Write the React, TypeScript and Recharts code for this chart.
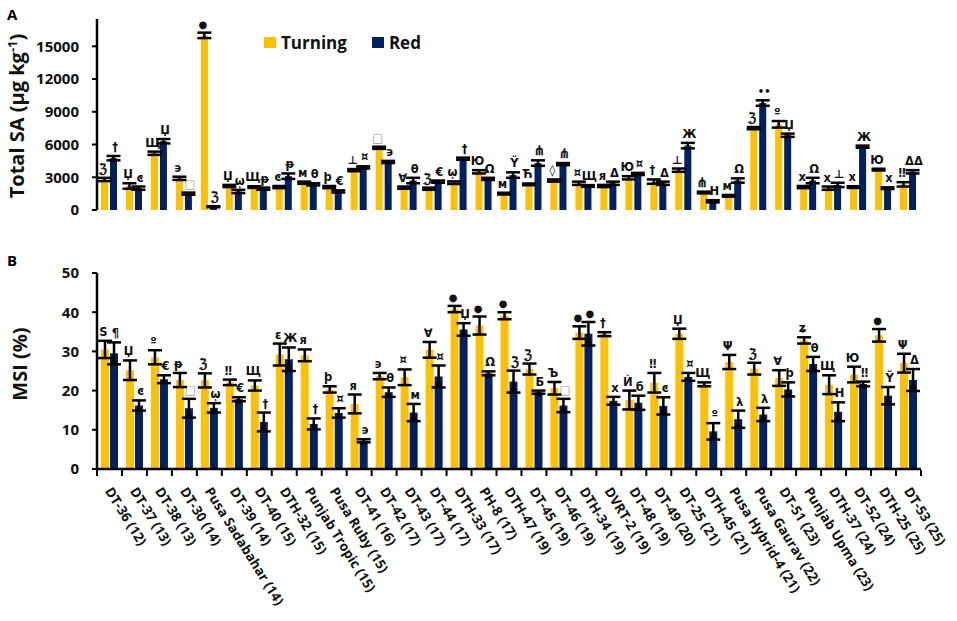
import React from "react";
import { BarChart, Bar, XAxis, YAxis, ErrorBar, Legend } from "recharts";

// cultivar (days to ripening)
const cultivars = [
  "DT-36 (12)", "DT-37 (13)", "DT-38 (13)", "DT-30 (14)", "Pusa Sadabahar (14)", "DT-39 (14)",
  "DT-40 (15)", "DTH-32 (15)", "Punjab Tropic (15)", "Pusa Ruby (15)", "DT-41 (16)", "DT-42 (17)",
  "DT-43 (17)", "DT-44 (17)", "DTH-33 (17)", "PH-8 (17)", "DTH-47 (19)", "DT-45 (19)", "DT-46 (19)",
  "DTH-34 (19)", "DVRT-2 (19)", "DT-48 (19)", "DT-49 (20)", "DT-25 (21)", "DTH-45 (21)",
  "Pusa Hybrid-4 (21)", "Pusa Gaurav (22)", "DT-51 (23)", "Punjab Upma (23)", "DTH-37 (24)",
  "DT-52 (24)", "DTH-25 (25)", "DT-53 (25)",
];

// A: total SA, µg/kg
const saTurning = [2800, 2200, 5200, 2900, 16000, 2200, 2100, 2100, 2500, 2100, 3650, 5700, 2050, 1950, 2500, 3500, 1500, 2350, 2700, 2450, 2200, 2950, 2600, 3650, 1600, 1300, 7500, 7850, 2100, 2000, 2100, 3700, 2350];
const saTurningErr = [150, 250, 150, 150, 250, 100, 80, 100, 100, 100, 100, 100, 100, 100, 120, 150, 80, 80, 100, 150, 100, 150, 200, 150, 80, 80, 100, 300, 100, 150, 80, 80, 200];
const saRed = [4750, 2000, 6300, 1500, 300, 1700, 1950, 3100, 2350, 1700, 3900, 4400, 2700, 2600, 4700, 2850, 3200, 4300, 4200, 2200, 2450, 3300, 2450, 5900, 800, 2700, 9800, 6850, 2700, 2300, 5800, 2000, 3500];
const saRedErr = [200, 150, 200, 100, 50, 150, 100, 250, 100, 100, 100, 100, 250, 100, 100, 100, 250, 250, 100, 80, 150, 100, 150, 250, 100, 200, 250, 150, 250, 200, 100, 80, 150];
const saTurningMarks = ["ℨ", "Џ", "Щ", "϶", "●", "Џ", "Щ", "ͼ", "м", "ϸ", "⊥", "□", "∀", "ℨ", "ῳ", "Ю", "м", "Ћ", "◊", "¤", "я", "Ю", "†", "⊥", "⋔", "м", "ℨ", "º", "х", "х", "х", "Ю", "‼"];
const saRedMarks = ["†", "ͼ", "Џ", "□", "ℨ", "ῳ", "ᵽ", "ᵽ", "θ", "€", "¤", "϶", "θ", "€", "†", "Ω", "Ÿ", "⋔", "⋔", "Щ", "Δ", "¤", "Δ", "Ж", "Н", "Ω", "••", "Џ", "Ω", "⊥", "Ж", "х", "ΔΔ"];

// B: MSI, %
const msiTurning = [30.5, 25.2, 28.5, 22.7, 22.6, 22.1, 21.3, 29.2, 29.0, 20.3, 16.6, 23.7, 23.4, 30.4, 40.8, 36.6, 39.1, 25.5, 20.6, 34.8, 34.4, 17.6, 22.0, 34.5, 21.6, 27.3, 25.6, 23.2, 32.8, 21.5, 24.1, 34.1, 27.0];
const msiTurningErr = [2.2, 2.5, 1.8, 1.8, 1.8, 0.7, 1.3, 2.8, 1.5, 0.8, 2.4, 0.8, 2.0, 2.0, 0.8, 2.3, 0.9, 1.4, 1.6, 1.6, 0.5, 2.4, 2.5, 1.3, 0.5, 1.8, 1.5, 2.0, 0.8, 2.4, 2.0, 1.6, 2.4];
const msiRed = [29.5, 16.2, 22.9, 15.5, 15.6, 17.8, 12.0, 28.0, 11.5, 14.3, 7.2, 19.6, 14.4, 23.6, 35.6, 24.4, 22.3, 19.6, 16.2, 34.5, 17.4, 16.9, 16.1, 23.5, 9.6, 12.7, 13.9, 20.3, 26.8, 14.6, 21.7, 18.7, 22.7];
const msiRedErr = [2.8, 1.3, 1.0, 2.4, 1.2, 0.5, 2.4, 3.0, 1.4, 1.2, 0.4, 1.2, 2.2, 2.8, 1.6, 0.5, 2.8, 0.4, 1.7, 3.0, 1.0, 1.8, 2.2, 1.0, 2.1, 2.2, 1.7, 1.8, 1.8, 2.4, 0.6, 2.2, 2.8];
const msiTurningMarks = ["S", "Џ", "º", "ᵽ", "ℨ", "‼", "Щ", "ε", "я", "ϸ", "я", "϶", "¤", "∀", "●", "●", "●", "ℨ", "Ъ", "●", "†", "Ѝ", "‼", "Џ", "Щ", "Ψ", "ℨ", "∀", "ʑ", "Щ", "Ю", "●", "Ψ"];
const msiRedMarks = ["¶", "ͼ", "€", "□", "ῳ", "€", "†", "Ж", "†", "¤", "϶", "θ", "м", "¤", "Џ", "Ω", "ℨ", "Б", "□", "●", "х", "б", "ͼ", "¤", "º", "λ", "λ", "ϸ", "θ", "Н", "‼", "Ÿ", "Δ"];

const saTicks = [0, 3000, 6000, 9000, 12000, 15000];
const msiTicks = [0, 10, 20, 30, 40, 50];

const YELLOW = "#FFC000";
const NAVY = "#002060";
const FONT = "'Open Sans', 'Noto Sans', 'DejaVu Sans', sans-serif";
const MARK_FONT = "'DejaVu Sans', sans-serif";

const saData = cultivars.map((name, i) => ({
  name,
  turning: saTurning[i],
  turningErr: saTurningErr[i],
  turningMark: saTurningMarks[i],
  red: saRed[i],
  redErr: saRedErr[i],
  redMark: saRedMarks[i],
}));

const msiData = cultivars.map((name, i) => ({
  name,
  turning: msiTurning[i],
  turningErr: msiTurningErr[i],
  turningMark: msiTurningMarks[i],
  red: msiRed[i],
  redErr: msiRedErr[i],
  redMark: msiRedMarks[i],
}));

// bar + significance symbol (+ optional mean triangle)
function markedBar(key: string, triangle: boolean, shift: number) {
  return (props: any) => {
    const { x, y, width, height, fill, payload } = props;
    const val = payload[key];
    const pxPer = val > 0 ? height / val : 0;
    const errPx = payload[key + "Err"] * pxPer;
    const mark = payload[key + "Mark"];
    const cx = x + width / 2;
    const ty = y + errPx * 0.55;
    const small = mark === "●" || mark === "••";
    const plain = mark === "⋔" || mark === "ℨ";
    return (
      <g>
        <rect x={x} y={y} width={width} height={height} fill={fill} />
        {triangle && (
          <polygon points={`${cx - 3.5},${ty + 3} ${cx + 3.5},${ty + 3} ${cx},${ty - 3}`} fill="#000" />
        )}
        <text
          x={cx + shift}
          y={y - errPx - 5}
          textAnchor="middle"
          fontSize={small ? 10 : plain ? 13 : 11.5}
          fontWeight={plain ? 400 : 700}
          fontFamily={MARK_FONT}
          fill={mark === "□" ? "#999" : "#111"}
          stroke={plain ? "#111" : "none"}
          strokeWidth={plain ? 0.6 : 0}
        >
          {mark}
        </text>
      </g>
    );
  };
}

function CultivarTick(props: any) {
  const { x, y, payload, index } = props;
  const half = 12.5;
  const tx = x - 5;
  const ty = y + 20;
  return (
    <g>
      <line x1={x - half} y1={y - 1} x2={x - half} y2={y + 5} stroke="#000" strokeWidth={2} />
      {index === cultivars.length - 1 && (
        <line x1={x + half} y1={y - 1} x2={x + half} y2={y + 5} stroke="#000" strokeWidth={2} />
      )}
      <text
        x={tx}
        y={ty}
        transform={`rotate(58, ${tx}, ${ty})`}
        textAnchor="start"
        fontSize={13.5}
        fontWeight={700}
        fontFamily={FONT}
        fill="#111"
      >
        {payload.value}
      </text>
    </g>
  );
}

function LegendBox() {
  return (
    <div style={{ display: "flex", alignItems: "center", fontFamily: FONT, fontWeight: 700, fontSize: 17, color: "#111" }}>
      <span style={{ width: 12, height: 11, background: YELLOW, display: "inline-block", marginRight: 5 }} />
      <span style={{ marginRight: 25 }}>Turning</span>
      <span style={{ width: 12, height: 11, background: NAVY, display: "inline-block", marginRight: 5 }} />
      <span>Red</span>
    </div>
  );
}

const tickStyle = { fill: "#111", fontSize: 15, fontWeight: 700, fontFamily: FONT };

export default function App() {
  return (
    <div style={{ position: "absolute", left: 0, top: 0, width: 957, height: 621, background: "#fff", fontFamily: FONT }}>
      <div style={{ position: "absolute", left: 7, top: 4, fontWeight: 700, fontSize: 15 }}>A</div>
      <div style={{ position: "absolute", left: 7, top: 250, fontWeight: 700, fontSize: 15 }}>B</div>

      <div style={{ position: "absolute", left: 0, top: 0 }}>
        <BarChart width={957} height={240} data={saData} margin={{ top: 19, right: 36, bottom: 7, left: 0 }} barSize={7} barGap={2}>
          <XAxis dataKey="name" hide />
          <YAxis
            width={97}
            domain={[0, 17500]}
            ticks={saTicks}
            interval={0}
            allowDataOverflow
            axisLine={{ stroke: "#000", strokeWidth: 2.5 }}
            tickLine={{ stroke: "#000", strokeWidth: 2 }}
            tickSize={5}
            tickMargin={13}
            tick={tickStyle}
            label={() => (
              <text
                x={24}
                y={116}
                transform="rotate(-90, 24, 116)"
                textAnchor="middle"
                fontSize={20}
                fontWeight={700}
                fontFamily={FONT}
                fill="#111"
              >
                Total SA (µg kg
                <tspan fontSize={13} dy={-7}>-1</tspan>
                <tspan dy={7}>)</tspan>
              </text>
            )}
          />
          <Legend
            content={() => <LegendBox />}
            wrapperStyle={{ position: "absolute", left: 264, top: 31, width: "auto" }}
          />
          <Bar dataKey="turning" name="Turning" fill={YELLOW} isAnimationActive={false} shape={markedBar("turning", false, -1.5)}>
            <ErrorBar dataKey="turningErr" width={7} strokeWidth={2.5} stroke="#000" />
          </Bar>
          <Bar dataKey="red" name="Red" fill={NAVY} isAnimationActive={false} shape={markedBar("red", false, 1.5)}>
            <ErrorBar dataKey="redErr" width={7} strokeWidth={2.5} stroke="#000" />
          </Bar>
        </BarChart>
      </div>

      <div style={{ position: "absolute", left: 0, top: 240 }}>
        <BarChart width={957} height={381} data={msiData} margin={{ top: 33, right: 36, bottom: 0, left: 0 }} barSize={8} barGap={1}>
          <XAxis
            dataKey="name"
            interval={0}
            height={152}
            axisLine={{ stroke: "#000", strokeWidth: 2.5 }}
            tickLine={false}
            tickSize={0}
            tick={<CultivarTick />}
          />
          <YAxis
            width={97}
            domain={[0, 50]}
            ticks={msiTicks}
            interval={0}
            axisLine={{ stroke: "#000", strokeWidth: 2.5 }}
            tickLine={{ stroke: "#000", strokeWidth: 2 }}
            tickSize={5}
            tickMargin={13}
            tick={tickStyle}
            label={() => (
              <text
                x={27}
                y={124}
                transform="rotate(-90, 27, 124)"
                textAnchor="middle"
                fontSize={20}
                fontWeight={700}
                fontFamily={FONT}
                fill="#111"
              >
                MSI (%)
              </text>
            )}
          />
          <Bar dataKey="turning" name="Turning" fill={YELLOW} isAnimationActive={false} shape={markedBar("turning", false, -1.5)}>
            <ErrorBar dataKey="turningErr" width={7} strokeWidth={2.5} stroke="#000" />
          </Bar>
          <Bar dataKey="red" name="Red" fill={NAVY} isAnimationActive={false} shape={markedBar("red", true, 1.5)}>
            <ErrorBar dataKey="redErr" width={7} strokeWidth={2.5} stroke="#000" />
          </Bar>
        </BarChart>
      </div>
    </div>
  );
}
